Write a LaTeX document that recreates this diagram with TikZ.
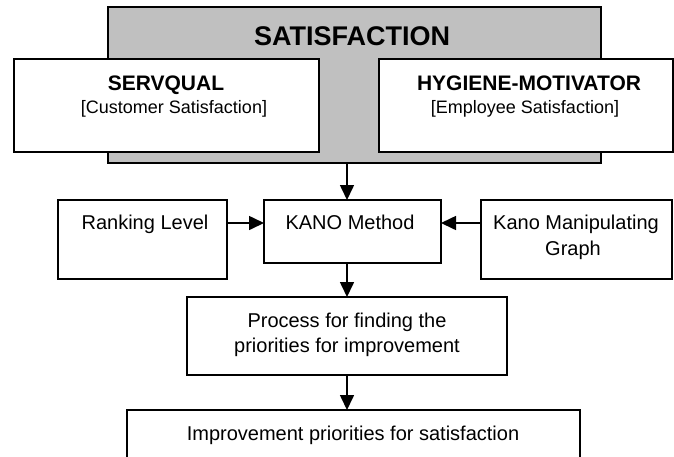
\documentclass[tikz,border=0pt]{standalone}
\usepackage{fontspec}
\setmainfont{Liberation Sans}
\usetikzlibrary{arrows.meta}
\definecolor{graybox}{HTML}{C0C0C0}
\begin{document}
\begin{tikzpicture}[x=1pt,y=-1pt,
  box/.style={draw=black, line width=1.6pt, fill=white, inner sep=0pt, outer sep=0pt, anchor=north west},
  lbl/.style={inner sep=0pt, anchor=base, font=\fontsize{20}{24}\selectfont},
  sublbl/.style={inner sep=0pt, anchor=base, font=\fontsize{18}{22}\selectfont},
  bold/.style={inner sep=0pt, anchor=base, font=\fontsize{21}{25}\selectfont\bfseries},
  title/.style={inner sep=0pt, anchor=base, font=\fontsize{27}{32}\selectfont\bfseries},
  arr/.style={line width=1.6pt, -{Triangle[length=15pt,width=14pt]}}]
\useasboundingbox (0,0) rectangle (674,456);
\clip (0,0) rectangle (674,456);
% boxes
\node[box, fill=graybox, minimum width=493pt, minimum height=156pt] (sat) at (108,7) {};
\node[box, minimum width=305pt, minimum height=93pt] (serv) at (14,59) {};
\node[box, minimum width=294pt, minimum height=93pt] (hyg) at (379,59) {};
\node[box, minimum width=169pt, minimum height=79pt] (rank) at (58,200) {};
\node[box, minimum width=177pt, minimum height=63pt] (kano) at (264,200) {};
\node[box, minimum width=191pt, minimum height=79pt] (kmg) at (481,200) {};
\node[box, minimum width=320pt, minimum height=78pt] (proc) at (187,297) {};
\node[box, minimum width=453pt, minimum height=70pt] (impr) at (127,410) {};
% texts
\node[title] (tsat) at (352,45) {SATISFACTION};
\node[bold] (tserv) at (166,90) {SERVQUAL};
\node[sublbl] (tserv2) at (174,113) {[Customer Satisfaction]};
\node[bold] (thyg) at (529,90) {HYGIENE-MOTIVATOR};
\node[sublbl] (thyg2) at (525,113) {[Employee Satisfaction]};
\node[lbl] (trank) at (145,229) {Ranking Level};
\node[lbl] (tkano) at (350,229) {KANO Method};
\node[lbl] (tkmg) at (576,229) {Kano Manipulating};
\node[lbl] (tkmg2) at (573,255) {Graph};
\node[lbl] (tproc) at (347,327) {Process for finding the};
\node[lbl] (tproc2) at (347,352) {priorities for improvement};
\node[lbl] (timpr) at (353,440) {Improvement priorities for satisfaction};
% connectors
\draw[arr] (sat.south -| proc.north) -- (kano.north -| proc.north);
\draw[arr] ([yshift=-23pt]rank.north east) -- ([yshift=-23pt]kano.north west);
\draw[arr] ([yshift=-23pt]kmg.north west) -- ([yshift=-23pt]kano.north east);
\draw[arr] (kano.south -| proc.north) -- (proc.north);
\draw[arr] (proc.south) -- (proc.south |- impr.north);
\end{tikzpicture}
\end{document}
